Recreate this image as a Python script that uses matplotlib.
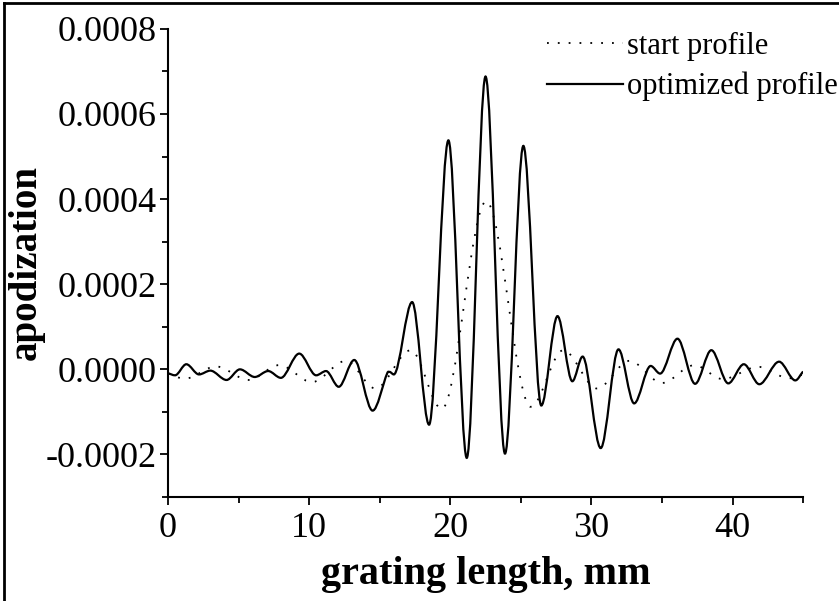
import numpy as np
import matplotlib
matplotlib.use('Agg')
import matplotlib.pyplot as plt
from matplotlib.path import Path
from matplotlib.patches import PathPatch
from matplotlib.lines import Line2D
from matplotlib.ticker import MultipleLocator, FormatStrFormatter

# Values (x in mm, y in units of 1e-4)
start_x = [0.0, 1.2, 3.4, 5.7, 7.9, 10.2, 12.6, 14.7, 17.2, 19.4, 22.55,
           25.7, 28.0, 30.4, 32.7, 35.0, 37.3, 39.3, 41.8, 44.0, 45.0]
start_y = [-0.10, -0.22, 0.07, -0.25, 0.10, -0.30, 0.20, -0.45, 0.45, -0.93, 3.95,
           -0.88, 0.45, -0.45, 0.20, -0.32, 0.10, -0.23, 0.06, -0.21, -0.12]

opt_x = [0.0, 0.5, 1.3, 2.2, 3.0, 4.15, 5.1, 6.15, 7.1, 8.0, 9.3, 10.5, 11.2,
         12.1, 13.2, 14.5, 15.55, 15.7, 16.0, 17.3, 18.5, 19.87, 21.17, 22.5,
         23.88, 25.18, 26.45, 27.6, 28.65, 29.38, 30.66, 31.92, 33.03, 34.2,
         34.87, 36.1, 37.35, 38.5, 39.7, 40.8, 41.9, 43.3, 44.45, 45.0]
opt_y = [-0.09, -0.14, 0.12, -0.12, -0.03, -0.25, 0.0, -0.18, -0.04, -0.20,
         0.37, -0.14, -0.04, -0.41, 0.22, -0.97, -0.08, -0.06, -0.12, 1.58,
         -1.30, 5.38, -2.08, 6.88, -1.98, 5.25, -0.85, 1.25, -0.28, 0.30,
         -1.85, 0.47, -0.80, 0.08, -0.10, 0.72, -0.34, 0.45, -0.33, 0.12,
         -0.35, 0.18, -0.26, -0.05]

x_ticks = [0, 10, 20, 30, 40]

plt.rcParams['font.family'] = ['Liberation Serif', 'DejaVu Serif']


def smooth_path(xs, ys):
    # cubic bezier segments through the read points, flat at extrema
    xs = np.asarray(xs, float)
    ys = np.asarray(ys, float)
    n = len(xs)
    slopes = np.zeros(n)
    for i in range(n):
        if i == 0:
            slopes[i] = (ys[1] - ys[0]) / (xs[1] - xs[0])
        elif i == n - 1:
            slopes[i] = (ys[-1] - ys[-2]) / (xs[-1] - xs[-2])
        elif (ys[i] - ys[i - 1]) * (ys[i + 1] - ys[i]) <= 0:
            slopes[i] = 0.0
        else:
            slopes[i] = (ys[i + 1] - ys[i - 1]) / (xs[i + 1] - xs[i - 1])
    verts = [(xs[0], ys[0])]
    codes = [Path.MOVETO]
    for i in range(n - 1):
        h = (xs[i + 1] - xs[i]) / 3.0
        verts += [(xs[i] + h, ys[i] + slopes[i] * h),
                  (xs[i + 1] - h, ys[i + 1] - slopes[i + 1] * h),
                  (xs[i + 1], ys[i + 1])]
        codes += [Path.CURVE4] * 3
    return Path(verts, codes)


fig = plt.figure(figsize=(8.39, 6.01), dpi=100)
ax = fig.add_axes([0.2002, 0.173, 0.757, 0.779])

start_scaled = np.array(start_y) * 1e-4
opt_scaled = np.array(opt_y) * 1e-4

dotted = (0, (1, 5))
ax.add_patch(PathPatch(smooth_path(start_x, start_scaled), fill=False,
                       edgecolor='black', linewidth=1.3, linestyle=dotted))
ax.add_patch(PathPatch(smooth_path(opt_x, opt_scaled), fill=False,
                       edgecolor='black', linewidth=1.6))

ax.set_xlim(0, 45)
ax.set_ylim(-0.0003, 0.0008)
ax.set_xticks(x_ticks)
ax.xaxis.set_minor_locator(MultipleLocator(5))
ax.yaxis.set_major_locator(MultipleLocator(0.0002))
ax.yaxis.set_minor_locator(MultipleLocator(0.0001))
ax.yaxis.set_major_formatter(FormatStrFormatter('%.4f'))

for side in ['top', 'right']:
    ax.spines[side].set_visible(False)
for side in ['left', 'bottom']:
    ax.spines[side].set_linewidth(1.5)

ax.tick_params(which='major', direction='out', length=6, width=1.3,
               labelsize=26, colors='black')
ax.tick_params(which='minor', direction='out', length=4, width=1.3)
ax.tick_params(axis='y', pad=2)
ax.tick_params(axis='x', pad=5)

ax.set_xlabel('grating length, mm', fontsize=29, fontweight='bold', labelpad=8)
ax.set_ylabel('apodization', fontsize=28, fontweight='bold', labelpad=1)

handles = [Line2D([], [], color='black', linewidth=1.3, linestyle=dotted),
           Line2D([], [], color='black', linewidth=1.6)]
ax.legend(handles, ['start profile', 'optimized profile'], loc='upper right',
          bbox_to_anchor=(0.998, 0.947), bbox_transform=fig.transFigure,
          frameon=False, fontsize=22, handlelength=2.5, handletextpad=0.12,
          labelspacing=0.36, borderpad=0, borderaxespad=0)

# frame around the figure (left and top edges visible in the reference)
fig.add_artist(Line2D([0.005, 0.005], [0, 0.995], transform=fig.transFigure,
                      color='black', linewidth=2))
fig.add_artist(Line2D([0.005, 1.0], [0.995, 0.995], transform=fig.transFigure,
                      color='black', linewidth=2))

fig.savefig('out.png', dpi=100)
